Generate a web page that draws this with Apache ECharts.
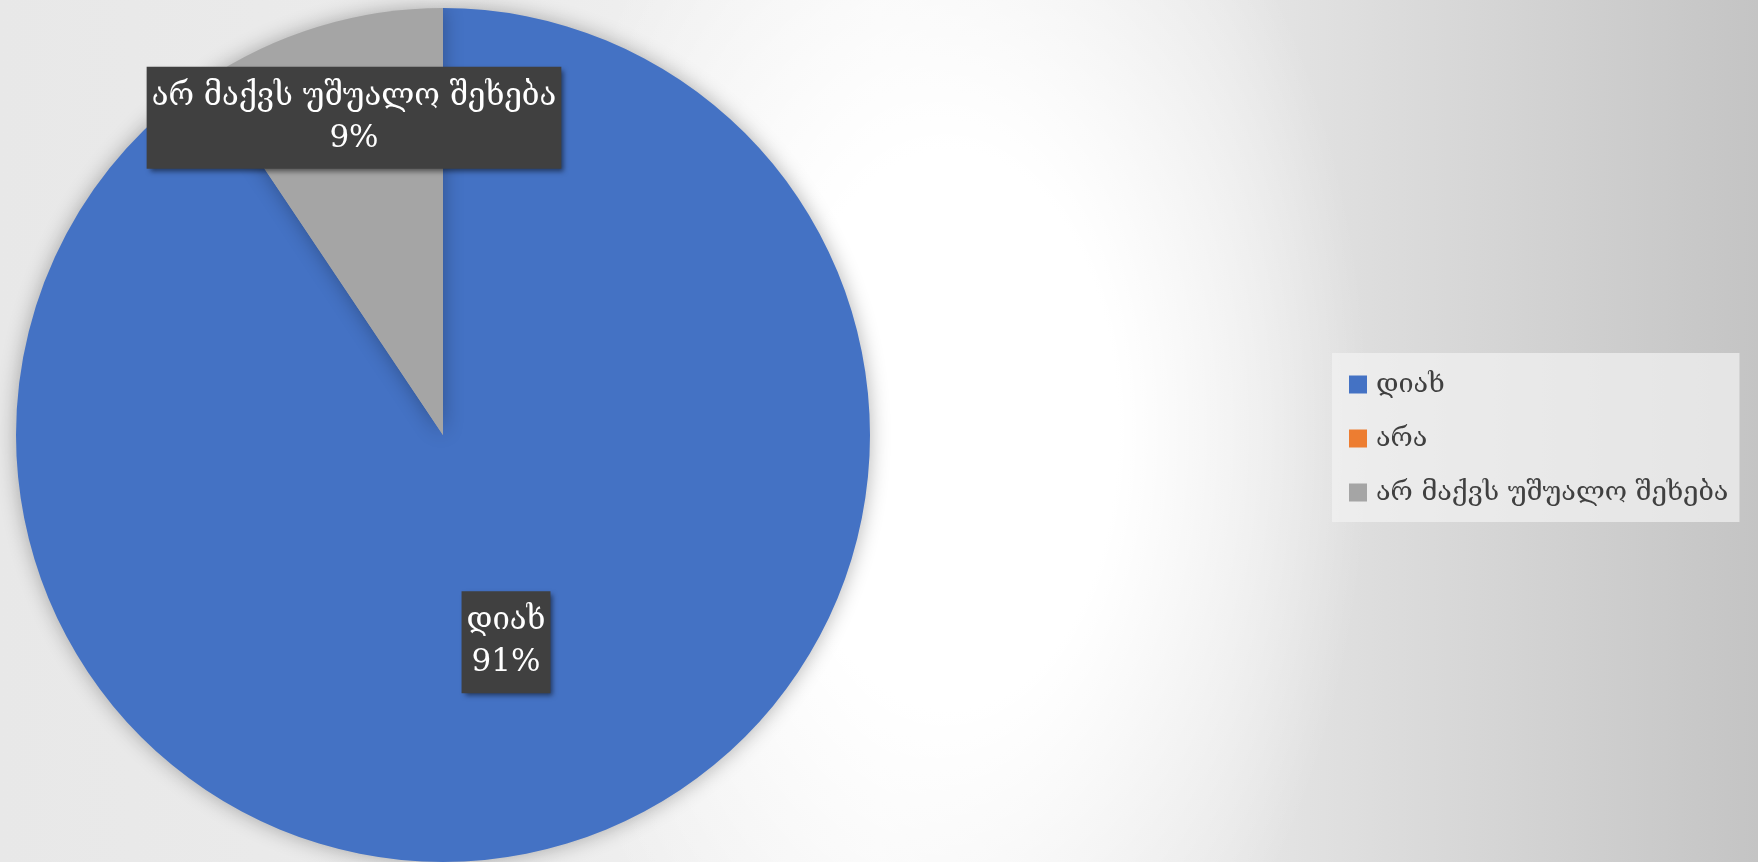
<!DOCTYPE html>
<html>
<head>
<meta charset="utf-8">
<script src="https://cdn.jsdelivr.net/npm/echarts@6/dist/echarts.min.js"></script>
<style>
html, body { margin: 0; padding: 0; width: 1758px; height: 862px; overflow: hidden; }
body {
  background:
    radial-gradient(ellipse 420px 700px at 950px 430px, rgba(255,255,255,1) 0%, rgba(255,255,255,1) 40%, rgba(255,255,255,0) 100%),
    linear-gradient(to right, #e8e8e8 0%, #ececec 30%, #f4f4f4 50%, #e6e6e6 70%, #c4c4c4 100%);
}
#chart { width: 1758px; height: 862px; }
</style>
</head>
<body>
<div id="chart"></div>
<script>
const categories = ['დიახ', 'არა', 'არ მაქვს უშუალო შეხება'];
const values = [90.6, 0, 9.4];
const colors = ['#4472c4', '#ed7d31', '#a5a5a5'];

const LABEL_FONT = "'DejaVu Serif', 'DejaVu Sans', serif";
const LEGEND_FONT = "'DejaVu Serif', 'DejaVu Sans', serif";

const data = categories.map((name, i) => ({
  name: name,
  value: values[i],
  itemStyle: { color: colors[i] },
  label: values[i] === 0 ? { show: false } : undefined
}));

const chart = echarts.init(document.getElementById('chart'), null, { renderer: 'canvas' });
chart.setOption({
  backgroundColor: 'transparent',
  animation: false,
  legend: {
    orient: 'vertical',
    left: 1332,
    top: 353,
    padding: [18, 11, 16, 17],
    backgroundColor: 'rgba(242,242,242,0.7)',
    itemWidth: 18,
    itemHeight: 18,
    itemGap: 27,
    icon: 'rect',
    data: categories,
    textStyle: { fontFamily: LEGEND_FONT, fontSize: 27, color: '#404040', lineHeight: 24, padding: [0, 0, 0, 4] }
  },
  series: [{
    type: 'pie',
    center: [443, 435],
    radius: 427,
    startAngle: 90,
    clockwise: true,
    percentPrecision: 0,
    data: data,
    itemStyle: { shadowBlur: 20, shadowColor: 'rgba(0,0,0,0.3)' },
    label: {
      show: true,
      position: 'inside',
      formatter: '{b}\n{d}%',
      color: '#ffffff',
      fontFamily: LABEL_FONT,
      fontSize: 31,
      lineHeight: 42,
      backgroundColor: '#404040',
      padding: [9, 5, 9, 5],
      shadowBlur: 5,
      shadowOffsetX: 3,
      shadowOffsetY: 3,
      shadowColor: 'rgba(0,0,0,0.5)'
    },
    labelLine: { show: false },
    labelLayout: function (p) {
      if (p.dataIndex === 2) return { dx: -26, dy: -110 };
    },
    emphasis: { disabled: true }
  }]
});
</script>
</body>
</html>
